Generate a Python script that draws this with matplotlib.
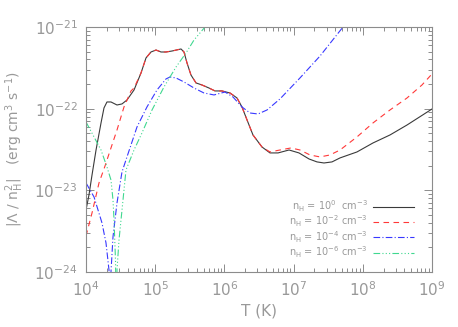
import numpy as np
import matplotlib
matplotlib.use('Agg')
import matplotlib.pyplot as plt
from matplotlib.ticker import LogLocator, FixedLocator

# Values: log10 T (K) and log10 |Lambda/nH^2| (erg cm^3 s^-1)
logT_n0 = [4.000, 4.043, 4.087, 4.145, 4.217, 4.260, 4.303, 4.361, 4.448, 4.520,
           4.592, 4.694, 4.795, 4.867, 4.939, 5.012, 5.084, 5.156, 5.243, 5.373,
           5.416, 5.460, 5.517, 5.590, 5.676, 5.777, 5.864, 5.965, 6.081, 6.182,
           6.254, 6.327, 6.413, 6.543, 6.659, 6.775, 6.934, 7.078, 7.223, 7.338,
           7.439, 7.555, 7.671, 7.916, 8.147, 8.393, 8.639, 9.000]
logL_n0 = [-23.240, -23.056, -22.812, -22.506, -22.175, -21.991, -21.918, -21.918, -21.955, -21.942,
           -21.894, -21.771, -21.563, -21.379, -21.306, -21.282, -21.306, -21.306, -21.294, -21.269,
           -21.306, -21.441, -21.588, -21.685, -21.710, -21.747, -21.783, -21.783, -21.808, -21.869,
           -21.979, -22.138, -22.322, -22.469, -22.542, -22.542, -22.506, -22.542, -22.616, -22.652,
           -22.665, -22.652, -22.603, -22.530, -22.420, -22.322, -22.200, -22.004]

logT_n2 = [4.000, 4.087, 4.188, 4.275, 4.361, 4.448, 4.549, 4.650, 4.694, 4.795,
           4.867, 4.939, 5.012, 5.084, 5.156, 5.243, 5.373, 5.416, 5.460, 5.517,
           5.590, 5.676, 5.777, 5.864, 5.965, 6.081, 6.182, 6.254, 6.327, 6.413,
           6.543, 6.659, 6.803, 6.962, 7.092, 7.237, 7.382, 7.526, 7.671, 7.916,
           8.147, 8.393, 8.639, 8.855, 9.000]
logL_n2 = [-23.558, -23.277, -22.909, -22.701, -22.481, -22.261, -21.979, -21.783, -21.747, -21.563,
           -21.379, -21.306, -21.282, -21.306, -21.306, -21.294, -21.269, -21.306, -21.441, -21.588,
           -21.685, -21.710, -21.747, -21.783, -21.783, -21.808, -21.869, -21.979, -22.138, -22.322,
           -22.469, -22.530, -22.506, -22.481, -22.506, -22.567, -22.591, -22.567, -22.506, -22.346,
           -22.175, -22.016, -21.869, -21.710, -21.575]

# n = 1e-4: two branches either side of the sign change (heating -> cooling)
logT_n4a = [4.000, 4.116, 4.231, 4.289, 4.332, 4.352]
logL_n4a = [-22.909, -23.081, -23.399, -23.644, -23.974, -24.5]
logT_n4b = [4.358, 4.361, 4.390, 4.448, 4.520, 4.592, 4.737, 4.881, 5.026, 5.156,
            5.214, 5.301, 5.416, 5.561, 5.705, 5.850, 6.009, 6.124, 6.254, 6.370,
            6.486, 6.616, 6.803, 7.092, 7.382, 7.714, 7.815]
logL_n4b = [-24.5, -23.999, -23.570, -23.154, -22.775, -22.591, -22.224, -21.979, -21.771, -21.636,
            -21.612, -21.624, -21.673, -21.747, -21.808, -21.832, -21.796, -21.857, -21.979, -22.053,
            -22.065, -22.016, -21.881, -21.624, -21.355, -21.000, -20.902]

# n = 1e-6
logT_n6a = [4.000, 4.116, 4.217, 4.303, 4.361, 4.390, 4.405, 4.426, 4.438]
logL_n6a = [-22.163, -22.346, -22.506, -22.714, -22.873, -23.118, -23.362, -23.852, -24.5]
logT_n6b = [4.444, 4.448, 4.477, 4.506, 4.578, 4.694, 4.809, 4.954, 5.127, 5.301,
            5.445, 5.561, 5.720, 5.800]
logL_n6b = [-24.5, -23.974, -23.607, -23.362, -22.750, -22.506, -22.297, -22.016, -21.734, -21.490,
            -21.318, -21.159, -21.000, -20.910]

labels = [r'n$_{\rm H}$ = 10$^{0}$  cm$^{-3}$',
          r'n$_{\rm H}$ = 10$^{-2}$ cm$^{-3}$',
          r'n$_{\rm H}$ = 10$^{-4}$ cm$^{-3}$',
          r'n$_{\rm H}$ = 10$^{-6}$ cm$^{-3}$']

grey = '#8c8c8c'
txt = '#999999'
plt.rcParams['mathtext.fontset'] = 'dejavusans'

fig = plt.figure(figsize=(4.58, 3.27), dpi=100)
ax = fig.add_axes([86/458, 1 - 272/327, 346/458, 245/327])


def p(lt, ll):
    return 10**np.array(lt), 10**np.array(ll)


lw = 0.8
dash = (0, (5, 4))
dashdot = (0, (6, 2, 1, 2))
dashdotdot = (0, (6, 2, 1, 2, 1, 2, 1, 2))
ax.plot(*p(logT_n0, logL_n0), color='#3a3a3a', lw=lw, label=labels[0])
ax.plot(*p(logT_n2, logL_n2), color='#ff3838', lw=lw, ls=dash, label=labels[1])
ax.plot(*p(logT_n4a, logL_n4a), color='#3838ff', lw=lw, ls=dashdot, label=labels[2])
ax.plot(*p(logT_n4b, logL_n4b), color='#3838ff', lw=lw, ls=dashdot)
ax.plot(*p(logT_n6a, logL_n6a), color='#40d890', lw=lw, ls=dashdotdot, label=labels[3])
ax.plot(*p(logT_n6b, logL_n6b), color='#40d890', lw=lw, ls=dashdotdot)

ax.set_xscale('log')
ax.set_yscale('log')
ax.set_xlim(1e4, 1e9)
ax.set_ylim(1e-24, 1e-21)

ax.xaxis.set_major_locator(FixedLocator([1e4, 1e5, 1e6, 1e7, 1e8, 1e9]))
ax.yaxis.set_major_locator(FixedLocator([1e-24, 1e-23, 1e-22, 1e-21]))
ax.xaxis.set_minor_locator(LogLocator(base=10, subs=np.arange(2, 10), numticks=20))
ax.yaxis.set_minor_locator(LogLocator(base=10, subs=np.arange(2, 10), numticks=20))
ax.set_xticklabels([r'10$^{%d}$' % e for e in range(4, 10)])
ax.set_yticklabels([r'10$^{%d}$' % e for e in range(-24, -20)])

for s in ax.spines.values():
    s.set_color(grey)
    s.set_linewidth(0.8)
ax.tick_params(which='both', direction='in', top=True, right=True, colors=grey,
               labelcolor=txt, width=0.7)
ax.tick_params(which='major', length=6, labelsize=11, pad=6)
ax.tick_params(which='minor', length=3)

ax.set_xlabel('T (K)', color=txt, fontsize=11, labelpad=3)
ax.set_ylabel(r'$|\Lambda\ /\ \mathrm{n}_{\mathrm{H}}^{2}|$   (erg cm$^{3}$ s$^{-1}$)',
              color=txt, fontsize=10, labelpad=6)

leg = ax.legend(loc='lower right', bbox_to_anchor=(0.965, 0.025), frameon=False,
                markerfirst=False, fontsize=7, labelspacing=-0.02, handlelength=4.2,
                handletextpad=0.6, labelcolor=txt, borderaxespad=0.2)

fig.savefig('out.png', dpi=100)
